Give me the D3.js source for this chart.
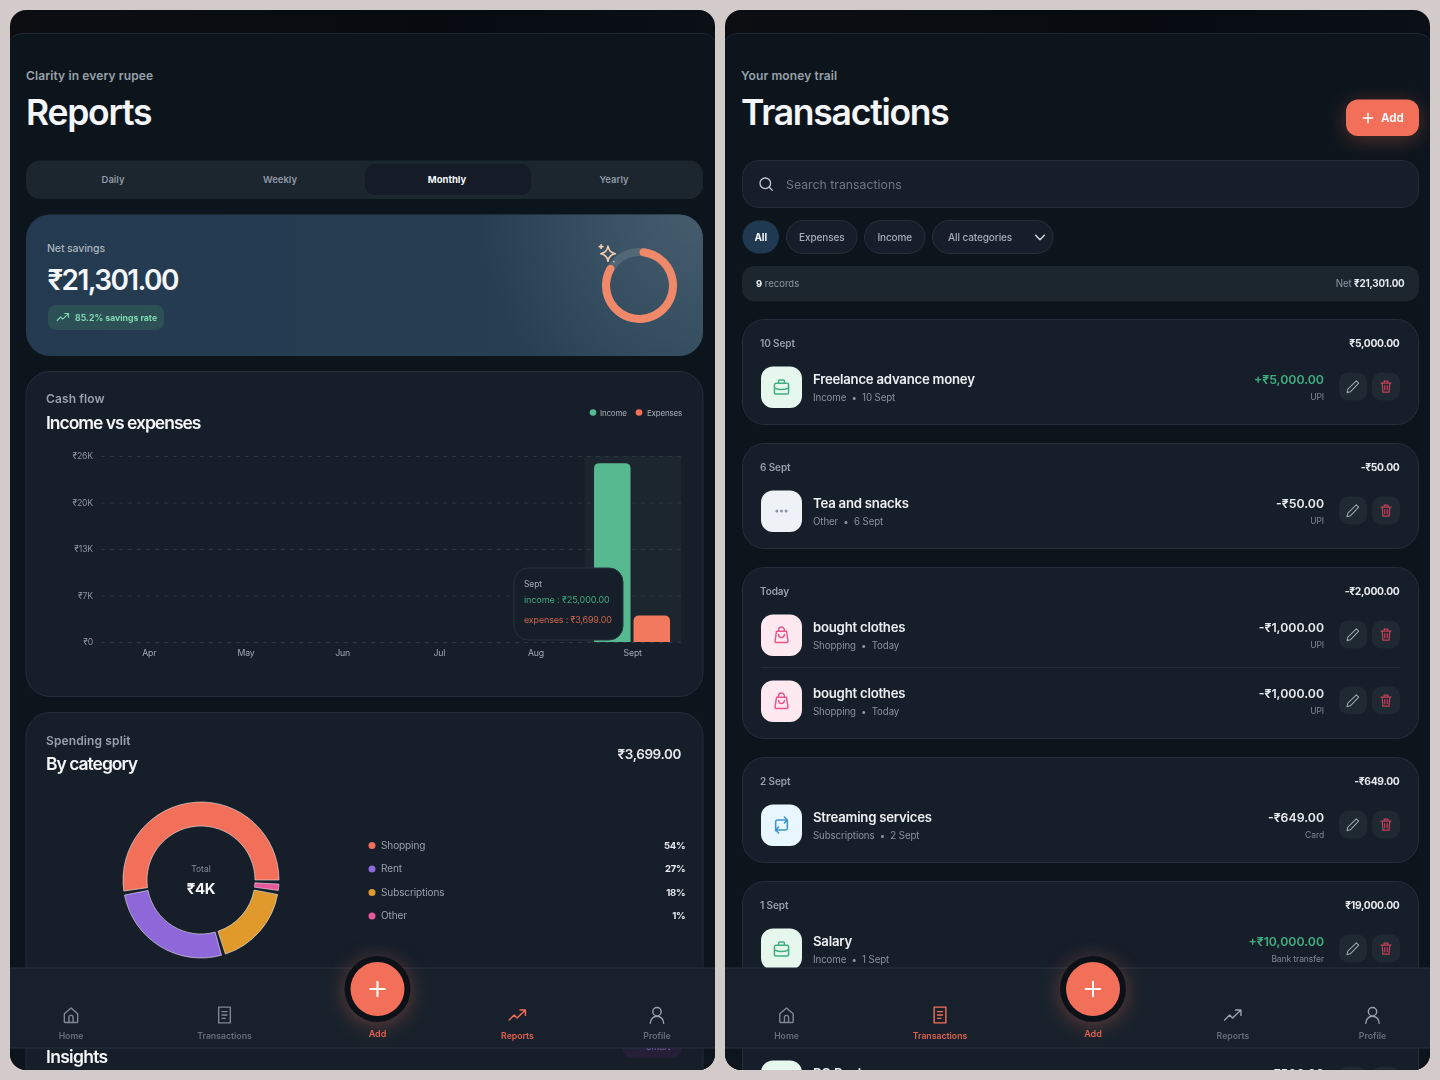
<!DOCTYPE html>
<html>
<head>
<meta charset="utf-8">
<script src="https://cdn.jsdelivr.net/npm/d3@7/dist/d3.min.js"></script>
<style>
html,body{margin:0;padding:0;background:#d3cbc9;width:1440px;height:1080px;overflow:hidden}
svg{display:block;filter:blur(0.3px)}
text{font-family:Inter,"Noto Sans",sans-serif}
</style>
</head>
<body>
<svg id="c" width="1440" height="1080" viewBox="0 0 1440 1080"></svg>
<script>
// ---------- data ----------
const months = ["Apr","May","Jun","Jul","Aug","Sept"];
const incomeValues = [0,0,0,0,0,25000];
const expenseValues = [0,0,0,0,0,3699];
const yTickValues = [0,6500,13000,19500,26000];
const yTickLabels = ["₹0","₹7K","₹13K","₹20K","₹26K"];
const categoryNames = ["Shopping","Rent","Subscriptions","Other"];
const categoryValues = [2000,1000,649,50];
const categoryPct = ["54%","27%","18%","1%"];
const categoryColors = ["#f2705a","#8e67d8","#e09a2b","#e8589a"];
const periodTabs = ["Daily","Weekly","Monthly","Yearly"];
const navLabels = ["Home","Transactions","Reports","Profile"];
const filterLabels = ["All","Expenses","Income","All categories"];
const savingsRate = 0.852;
const txGroups = [
 {date:"10 Sept",total:"₹5,000.00",rows:[{t:"Freelance advance money",s:"Income  •  10 Sept",a:"+₹5,000.00",m:"UPI",k:"income"}]},
 {date:"6 Sept",total:"-₹50.00",rows:[{t:"Tea and snacks",s:"Other  •  6 Sept",a:"-₹50.00",m:"UPI",k:"other"}]},
 {date:"Today",total:"-₹2,000.00",rows:[
   {t:"bought clothes",s:"Shopping  •  Today",a:"-₹1,000.00",m:"UPI",k:"shopping"},
   {t:"bought clothes",s:"Shopping  •  Today",a:"-₹1,000.00",m:"UPI",k:"shopping"}]},
 {date:"2 Sept",total:"-₹649.00",rows:[{t:"Streaming services",s:"Subscriptions  •  2 Sept",a:"-₹649.00",m:"Card",k:"subs"}]},
 {date:"1 Sept",total:"₹19,000.00",rows:[
   {t:"Salary",s:"Income  •  1 Sept",a:"+₹10,000.00",m:"Bank transfer",k:"income"},
   {t:"",s:"",a:"",m:"",k:"income"},
   {t:"PG Rent",s:"Rent  •  1 Sept",a:"-₹500.00",m:"UPI",k:"income"}]}
];
// ---------- palette ----------
const WHITE="#f4f6f9",MUTED="#98a1ab",CORAL="#f2705a",GREEN="#57b98f";
const CARD="#161e29",LINE="#232f3b",SOFT="#1c262f";
const kinds={income:{bg:"#e6f7ee",fg:"#3fae80",ic:"brief"},other:{bg:"#eef2f7",fg:"#8a94a6",ic:"dots"},
  shopping:{bg:"#ffe9f1",fg:"#e8558c",ic:"bag"},subs:{bg:"#e8f6fd",fg:"#3d93c9",ic:"repeat"}};
const icons={
 home:"M4 10.5 12 3.5l8 7V20a1 1 0 0 1-1 1H5a1 1 0 0 1-1-1z M9.5 21v-6a2.5 2.5 0 0 1 5 0v6",
 receipt:"M5 2.5h14v19H5z M9 8h6 M9 12h6 M9 16h4",
 trend:"M2 18l6-6 3.5 3.5L21 6.5 M15 6h6.5v6.5",
 user:"M12 3a5 5 0 1 0 0 10a5 5 0 1 0 0-10z M4 22c0-5 3.5-8.5 8-8.5s8 3.5 8 8.5",
 brief:"M3.5 9.5a2 2 0 0 1 2-2h13a2 2 0 0 1 2 2v9a2 2 0 0 1-2 2h-13a2 2 0 0 1-2-2z M8.5 7.5V5a1.5 1.5 0 0 1 1.5-1.5h4a1.5 1.5 0 0 1 1.5 1.5v2.5 M3.5 13c5 2.5 12 2.5 17 0",
 dots:"M5.5 12h.01 M12 12h.01 M18.5 12h.01",
 bag:"M6 7.5h12l1.8 12a1.5 1.5 0 0 1-1.5 1.5H5.7a1.5 1.5 0 0 1-1.5-1.5z M8.5 7.5V6a3.5 3.5 0 0 1 7 0v1.5 M8.5 11.5a3.5 3.5 0 0 0 7 0",
 repeat:"M5 19V8a2 2 0 0 1 2-2h12 M15.5 2.5 19 6l-3.5 3.5 M19 6v10a2 2 0 0 1-2 2H5 M8.5 21.5 5 18l3.5-3.5",
 pencil:"M17 3.5l3.5 3.5L8 20l-5 1.2L4.2 16z",
 trash:"M4 6.5h16 M9 6.5V3.5h6v3 M6 6.5l1 14.5h10l1-14.5 M10 10.5v6.5 M14 10.5v6.5",
 search:"M11 3.5a7.5 7.5 0 1 0 0 15a7.5 7.5 0 1 0 0-15z M16.5 16.5 21 21",
 plus:"M12 4v16 M4 12h16",
 chev:"M5 8.5l7 7 7-7",
 spark:"M12 4c.8 5 3 7.5 8 8.2-5 .8-7.2 3.2-8 8.3-.8-5.1-3-7.5-8-8.3 5-.7 7.2-3.2 8-8.2z M4.5 2.5v4 M2.5 4.5h4 M18.5 21h.01"
};
const svg=d3.select("#c");
const defs=svg.append("defs");
function T(g,x,y,s,o={}){
  return g.append("text").attr("x",x).attr("y",y).text(s)
   .attr("font-size",o.size||10).attr("font-weight",o.w||400).attr("fill",o.fill||WHITE)
   .attr("text-anchor",o.a||"start").attr("letter-spacing",o.ls==null?"-0.01em":o.ls)
   .attr("xml:space","preserve").style("white-space","pre");
}
function R(g,x,y,w,h,r,fill,stroke){
  const e=g.append("rect").attr("x",x).attr("y",y).attr("width",w).attr("height",h).attr("rx",r).attr("fill",fill);
  if(stroke) e.attr("stroke",stroke).attr("stroke-width",1);
  return e;
}
function I(g,name,cx,cy,size,color,sw){
  const k=size/24;
  return g.append("path").attr("d",icons[name]).attr("transform",`translate(${cx-12*k},${cy-12*k}) scale(${k})`)
   .attr("fill","none").attr("stroke",color).attr("stroke-width",sw/k).attr("stroke-linecap","round").attr("stroke-linejoin","round");
}
// gradients
const topG=defs.append("linearGradient").attr("id","topG").attr("x1",0).attr("x2",1);
topG.append("stop").attr("offset",0).attr("stop-color","#0c0e12");
topG.append("stop").attr("offset",.6).attr("stop-color","#070b10");
topG.append("stop").attr("offset",1).attr("stop-color","#0a1016");
const heroL=defs.append("linearGradient").attr("id","heroL").attr("x1",0).attr("x2",1).attr("y1",0).attr("y2",0);
heroL.append("stop").attr("offset",0).attr("stop-color","#233a50");
heroL.append("stop").attr("offset",.65).attr("stop-color","#263d52");
heroL.append("stop").attr("offset",1).attr("stop-color","#2c4659");
const heroR=defs.append("radialGradient").attr("id","heroR").attr("gradientUnits","userSpaceOnUse")
 .attr("cx",690).attr("cy",220).attr("r",210);
heroR.append("stop").attr("offset",0).attr("stop-color","#4a6171").attr("stop-opacity",.8);
heroR.append("stop").attr("offset",1).attr("stop-color","#4a6171").attr("stop-opacity",0);

function panel(id,x){
  defs.append("clipPath").attr("id",id).append("rect").attr("x",x).attr("y",10).attr("width",705).attr("height",1060).attr("rx",16);
  const g=svg.append("g").attr("clip-path",`url(#${id})`);
  g.append("rect").attr("x",x).attr("y",10).attr("width",705).attr("height",1060).attr("fill","url(#topG)");
  R(g,x-2,33.5,709,1060,14,"#0d151c","#1c2833");
  return g;
}
function nav(g,dx,activeIdx){
  const cx=[71,224.5,517.5,657].map(v=>v+dx), ic=["home","receipt","trend","user"];
  g.append("rect").attr("x",10+dx-2).attr("y",968).attr("width",709).attr("height",80).attr("fill","#18212b").attr("stroke","#26323e");
  navLabels.forEach((l,i)=>{
    const on=i===activeIdx;
    I(g,ic[i],cx[i],1015,20,on?CORAL:(i>=2?"#9aa3ad":"#7f8994"),1.4);
    T(g,cx[i],1039,l,{size:8.7,w:600,fill:on?"#e0624d":"#646e79",a:"middle",ls:0});
  });
  const fabX=377.5+dx;
  g.append("circle").attr("cx",fabX).attr("cy",989).attr("r",33).attr("fill","#0c1117").style("filter","drop-shadow(0 3px 10px rgba(242,112,90,.35))");
  g.append("circle").attr("cx",fabX).attr("cy",989).attr("r",27).attr("fill",CORAL);
  I(g,"plus",fabX,989,22,"#fff",2);
  T(g,fabX,1037,"Add",{size:9,w:600,fill:"#e0624d",a:"middle",ls:0});
}

// ========== LEFT PANEL: Reports ==========
const L=panel("clipL",10);
T(L,26,80,"Clarity in every rupee",{size:12,w:600,fill:MUTED,ls:"0.01em"});
T(L,26,125,"Reports",{size:35.5,w:600,ls:"-0.035em"});
R(L,26,160.5,677,38.5,14,SOFT);
R(L,365,164,166,31,10,"#151c27");
periodTabs.forEach((t,i)=>T(L,113+167*i,183,t,{size:9.5,w:i===2?700:600,fill:i===2?WHITE:"#8f98a3",a:"middle",ls:0}));
// hero
R(L,26,214.5,677,141.5,24,"url(#heroL)");
R(L,26,214.5,677,141.5,24,"url(#heroR)");
T(L,47,252,"Net savings",{size:10.5,w:500,fill:"#aab4be",ls:"-0.01em"});
T(L,47.5,290,"₹21,301.00",{size:28,w:600,ls:"-0.058em"});
R(L,48,305,116,25,8,"#2d5056");
I(L,"trend",63,317,14,"#7fd8b0",1.1);
T(L,75,321,"85.2% savings rate",{size:8.7,w:700,fill:"#7fd8b0",ls:0});
const ring=L.append("g").attr("transform","translate(639.5,285.5)");
const ringArc=d3.arc().innerRadius(29.5).outerRadius(37.5).cornerRadius(4);
ring.append("path").attr("d",d3.arc().innerRadius(29.5).outerRadius(37.5)({startAngle:0,endAngle:2*Math.PI})).attr("fill","rgba(255,255,255,.12)");
ring.append("path").attr("d",ringArc({startAngle:0,endAngle:2*Math.PI*savingsRate})).attr("fill","#f0886a");
I(L,"spark",608,253.5,22,"#f7cdb2",1.6);

// cash-flow card
R(L,26,371.5,677,325,24,CARD,LINE);
T(L,46,403,"Cash flow",{size:12,w:600,fill:MUTED,ls:"0.01em"});
T(L,46,429,"Income vs expenses",{size:17.5,w:600,ls:"-0.058em"});
const lg=L.append("g");
[["Income",GREEN,593,600],["Expenses",CORAL,639,647]].forEach(d=>{
  lg.append("circle").attr("cx",d[2]).attr("cy",412.5).attr("r",3.3).attr("fill",d[1]);
  T(lg,d[3],416,d[0],{size:8,fill:"#a8b0b9",ls:"-0.025em"});
});
const x0=d3.scaleBand().domain(months).range([101,681]);
const x1=d3.scaleBand().domain(["income","expenses"]).range([.7,94.7]).paddingInner(.076).paddingOuter(.228);
const yS=d3.scaleLinear().domain([0,26000]).range([642,456]);
const chart=L.append("g");
chart.append("rect").attr("x",x0("Sept")).attr("y",yS(26000)).attr("width",x0.bandwidth()).attr("height",yS(0)-yS(26000)).attr("fill","#1c262e");
const yAxis=d3.axisLeft(yS).tickValues(yTickValues).tickSize(-580).tickPadding(8).tickFormat((d,i)=>yTickLabels[i]);
const ya=chart.append("g").attr("transform","translate(101,0)").call(yAxis);
ya.select(".domain").remove();
ya.selectAll(".tick line").attr("stroke","#2a3741").attr("stroke-dasharray","4 5");
ya.selectAll(".tick text").attr("fill","#8a939d").attr("font-size",8.7).attr("letter-spacing","-0.02em");
const xAxis=d3.axisBottom(x0).tickSize(0).tickPadding(8);
const xa=chart.append("g").attr("transform","translate(0,642)").call(xAxis);
xa.select(".domain").remove();
xa.selectAll(".tick text").attr("fill","#a2aab3").attr("font-size",8.7).attr("letter-spacing","-0.02em");
function barPath(x,y,w,h,r){
  if(h<=0) return null;
  const p=d3.path();
  p.moveTo(x,y+h);p.lineTo(x,y+r);p.arcTo(x,y,x+r,y,r);p.lineTo(x+w-r,y);p.arcTo(x+w,y,x+w,y+r,r);p.lineTo(x+w,y+h);p.closePath();
  return p.toString();
}
const barRows=months.map((m,i)=>({m,income:incomeValues[i],expenses:expenseValues[i]}));
[["income","#57b98f"],["expenses","#f2785e"]].forEach(([k,c])=>{
  chart.append("g").selectAll("path").data(barRows.filter(d=>d[k]>0)).join("path")
   .attr("fill",c)
   .attr("d",d=>barPath(x0(d.m)+x1(k),yS(d[k]),x1.bandwidth(),yS(0)-yS(d[k]),5));
});
// tooltip
R(L,514,568,109,72,14,CARD,"#263340");
T(L,524,587,"Sept",{size:8.5,fill:"#a2aab3",ls:"-0.01em"});
T(L,524,603,"income : ₹25,000.00",{size:9,fill:"#3fa97f",ls:"-0.01em"});
T(L,524,623,"expenses : ₹3,699.00",{size:9,fill:"#cb614b",ls:"-0.02em"});

// spending card
R(L,26,712.5,677,500,24,CARD,LINE);
T(L,46,745,"Spending split",{size:12,w:600,fill:MUTED,ls:"0.01em"});
T(L,46,770,"By category",{size:17.5,w:600,ls:"-0.058em"});
T(L,681,759,"₹3,699.00",{size:13.5,w:600,a:"end",fill:"#e6e9ed",ls:"-0.03em"});
const padA=3*Math.PI/180;
const pie=d3.pie().sort(null).startAngle(Math.PI/2).endAngle(Math.PI/2-2*Math.PI).padAngle(padA);
const arc=d3.arc().innerRadius(54).outerRadius(78);
L.append("g").attr("transform","translate(201,880)").selectAll("path").data(pie(categoryValues)).join("path")
 .attr("d",d=>arc({startAngle:d.startAngle,endAngle:d.endAngle+padA}))
 .attr("fill",(d,i)=>categoryColors[i]).attr("stroke","#e8e8e8").attr("stroke-opacity",.75).attr("stroke-width",.8);
T(L,201,872,"Total",{size:8.5,fill:"#838d97",a:"middle",ls:0});
T(L,201,893.5,"₹4K",{size:15,w:700,a:"middle",ls:"-0.02em"});
const rowY=d3.scalePoint().domain(categoryNames).range([845.5,916]);
categoryNames.forEach((n,i)=>{
  L.append("circle").attr("cx",372).attr("cy",rowY(n)).attr("r",3.5).attr("fill",categoryColors[i]);
  T(L,381,rowY(n)+3.3,n,{size:10,fill:"#98a1ab",ls:"-0.01em"});
  T(L,685.5,rowY(n)+3.3,categoryPct[i],{size:9.5,w:700,a:"end",fill:"#e6e9ed",ls:"-0.02em"});
});
T(L,46,1063,"Insights",{size:17.5,w:600,ls:"-0.04em"});
R(L,622,1034,60,24,10,"#251f38");
T(L,646,1050,"Smart",{size:8.5,w:600,fill:"#6f5ba8",ls:0});
nav(L,0,2);

// ========== RIGHT PANEL: Transactions ==========
const P=panel("clipR",725);
T(P,741,80,"Your money trail",{size:12,w:600,fill:MUTED,ls:"0.01em"});
T(P,741,125,"Transactions",{size:35.5,w:600,ls:"-0.035em"});
R(P,1346,99.5,73,36.5,12,CORAL).style("filter","drop-shadow(0 4px 10px rgba(242,112,90,.3))");
I(P,"plus",1368,118,14,"#fff",1.5);
T(P,1381,122,"Add",{size:11.5,w:700,ls:0});
R(P,742.5,160.5,676,47,16,CARD,"#222d39");
I(P,"search",766,184,17,"#c2c9d0",1.3);
T(P,786,189,"Search transactions",{size:12.3,fill:"#6e7883",ls:"0"});
const pills=[[742.5,36.5],[786.5,70.5],[864.5,60.5],[932.5,120.5]];
filterLabels.forEach((t,i)=>{
  R(P,pills[i][0],220.5,pills[i][1],33,16.5,i===0?"#1f3a50":CARD,i===0?null:"#262f3b");
  T(P,i===3?948:pills[i][0]+pills[i][1]/2,241,t,{size:10,w:i===0?700:500,fill:i===0?WHITE:"#a6afb8",a:i===3?"start":"middle",ls:"-0.01em"});
});
I(P,"chev",1040,237.5,15,"#d4d9de",1.5);
R(P,742,266,677,35,12,SOFT);
const rec=T(P,756,287,"9",{size:9.5,w:700,ls:0});
rec.append("tspan").text(" records").attr("font-weight",400).attr("fill","#8f98a3");
const net=T(P,1404.5,287,"Net ",{size:9.8,fill:"#8f98a3",a:"end",ls:"-0.02em"});
net.append("tspan").text("₹21,301.00").attr("font-weight",700).attr("fill","#e6e9ed");

const ICON=41,HEAD=48,ROWGAP=25,PADB=17,GAP=18;
let groupTop=319;
txGroups.forEach(gr=>{
  const n=gr.rows.length, h=HEAD+n*ICON+(n-1)*ROWGAP+PADB;
  R(P,742.5,groupTop+.5,676,h-1,22,CARD,LINE);
  T(P,760,groupTop+28,gr.date,{size:10,w:600,fill:"#97a0aa",ls:"-0.01em"});
  T(P,1399.5,groupTop+28,gr.total,{size:10.3,w:700,a:"end",fill:"#e6e9ed",ls:"-0.03em"});
  gr.rows.forEach((r,i)=>{
    const yy=groupTop+HEAD-.5+i*(ICON+ROWGAP), k=kinds[r.k];
    if(i>0) P.append("line").attr("x1",761).attr("x2",1400).attr("y1",yy-13).attr("y2",yy-13).attr("stroke","#232e39");
    R(P,761,yy,41,41.5,12,k.bg);
    I(P,k.ic,781.5,yy+20.5,r.k==="other"?17:20,k.fg,r.k==="other"?3:1.5);
    if(!r.t) return;
    T(P,813,yy+17,r.t,{size:13.2,w:600,fill:"#eceff2",ls:"-0.018em"});
    T(P,813,yy+34,r.s,{size:9.7,fill:"#8a939d",ls:"-0.01em"});
    T(P,1324,yy+17,r.a,{size:12.3,w:600,a:"end",fill:r.a[0]==="+"?"#3fae80":"#e6e9ed",ls:0});
    T(P,1324,yy+33,r.m,{size:8.5,a:"end",fill:"#7f8993",ls:"-0.01em"});
    R(P,1339,yy+6,28,28,9,"#1f2932");
    R(P,1372,yy+6,28,28,9,"#1f2932");
    I(P,"pencil",1353,yy+20,16,"#9aa3ad",1.1);
    I(P,"trash",1386,yy+20,15,"#c2405a",1.2);
  });
  groupTop+=h+GAP;
});
nav(P,715.5,1);
</script>
</body>
</html>
